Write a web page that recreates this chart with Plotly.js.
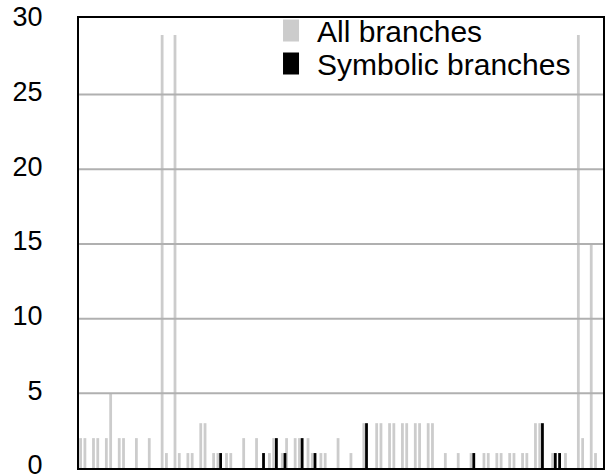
<!DOCTYPE html>
<html>
<head>
<meta charset="utf-8">
<script src="https://cdn.plot.ly/plotly-3.0.1.min.js"></script>
<style>html,body{margin:0;padding:0;background:#fff}#chart{width:608px;height:476px}</style>
</head>
<body>
<div id="chart"></div>
<script>
// branch slot index along the x axis
var branchIds = [0,1,3,4,6,7,9,10,13,16,19,20,22,23,25,26,28,29,31,32,34,35,38,41,42,44,45,47,48,50,51,53,54,56,57,60,63,66,69,70,72,73,75,76,78,79,81,82,85,88,91,94,95,97,98,100,101,103,104,106,107,110,111,113,116,117,119,120];
var allBranches = [2,2,2,2,2,5,2,2,2,2,29,1,29,1,1,1,3,3,1,1,1,1,2,2,0,1,2,1,2,2,2,2,1,1,1,2,1,3,3,3,3,3,3,3,3,3,3,3,1,1,1,1,1,1,1,1,1,1,1,3,3,1,0,1,29,2,15,1];
var symbolicBranches = [0,0,0,0,0,0,0,0,0,0,0,0,0,0,0,0,0,0,0,1,0,0,0,0,1,0,2,1,0,0,2,0,1,0,0,0,0,3,0,0,0,0,0,0,0,0,0,0,0,0,1,0,0,0,0,0,0,0,0,0,3,1,1,0,0,0,0,0];
var yTicks = [0,5,10,15,20,25,30];
var seriesNames = ['All branches','Symbolic branches'];

var FONT = 'Liberation Sans, Arial, Helvetica, sans-serif';
var barW = 0.65;

var traces = [
  {type:'bar', name: seriesNames[0], x: branchIds, y: allBranches,
   width: barW, offset: 0, marker:{color:'#cccccc', line:{width:0}}},
  {type:'bar', name: seriesNames[1], x: branchIds, y: symbolicBranches,
   width: barW, offset: 0.63, marker:{color:'#000000', line:{width:0}}}
];

var grid = yTicks.filter(function(v){return v>0 && v<30;}).map(function(v){
  return {type:'line', xref:'paper', x0:0, x1:1, yref:'y', y0:v, y1:v,
          line:{color:'#b0b0b0', width:2}, layer:'above'};
});

var layout = {
  width:608, height:476,
  margin:{l:79, r:5, t:16, b:8, pad:0},
  paper_bgcolor:'#ffffff', plot_bgcolor:'#ffffff',
  barmode:'overlay',
  showlegend:true,
  legend:{x:0.355, y:1.03, xanchor:'left', yanchor:'top', bgcolor:'rgba(0,0,0,0)',
          font:{family:FONT, size:30, color:'#000'}, tracegroupgap:0, itemwidth:42},
  xaxis:{range:[-0.05,122.07], showticklabels:false, ticks:'', showgrid:false, zeroline:false,
         showline:true, mirror:true, linecolor:'#000', linewidth:2},
  yaxis:{range:[0,30.13], tickvals:yTicks, ticktext:yTicks.map(String), ticks:'', showgrid:false,
         zeroline:false, showline:true, mirror:true, linecolor:'#000', linewidth:2,
         ticklabeloverflow:'allow', ticklabelshift:-3,
         ticklabelstandoff:29, tickfont:{family:FONT, size:27, color:'#000'}},
  shapes: grid
};

Plotly.newPlot('chart', traces, layout, {staticPlot:true, displayModeBar:false}).then(function(){
  var pts = document.querySelectorAll('.legend .legendpoints path');
  pts.forEach(function(p){ p.setAttribute('d','M8,11H-8V-11H8Z'); });
  var items = document.querySelectorAll('.legend .traces');
  if (items.length === 2) {
    var m = /translate\(([-\d.]+)\s*,\s*([-\d.]+)\)/.exec(items[0].getAttribute('transform') || '');
    if (m) {
      var x0 = parseFloat(m[1]), y0 = parseFloat(m[2]);
      items[1].setAttribute('transform', 'translate(' + x0 + ',' + (y0 + 33) + ')');
    }
  }
});
</script>
</body>
</html>
